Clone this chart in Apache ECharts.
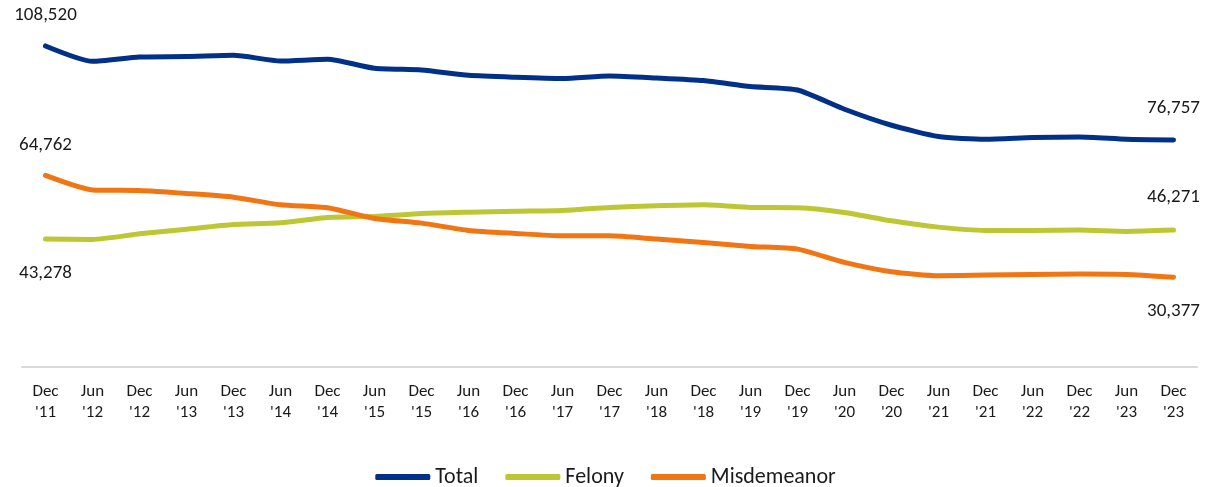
<!DOCTYPE html>
<html>
<head>
<meta charset="utf-8">
<script src="https://cdn.jsdelivr.net/npm/echarts@6/dist/echarts.min.js"></script>
<style>
  html, body { margin: 0; padding: 0; background: #fff; }
  #chart { width: 1211px; height: 487px; }
</style>
</head>
<body>
<div id="chart"></div>
<script>
const categories = [
  "Dec\n'11", "Jun\n'12", "Dec\n'12", "Jun\n'13", "Dec\n'13", "Jun\n'14", "Dec\n'14",
  "Jun\n'15", "Dec\n'15", "Jun\n'16", "Dec\n'16", "Jun\n'17", "Dec\n'17", "Jun\n'18",
  "Dec\n'18", "Jun\n'19", "Dec\n'19", "Jun\n'20", "Dec\n'20", "Jun\n'21", "Dec\n'21",
  "Jun\n'22", "Dec\n'22", "Jun\n'23", "Dec\n'23"
]

const total = [
  108520, 103340, 104790, 104920, 105360, 103440, 104010, 100970, 100400, 98610,
  97930, 97490, 98370, 97700, 96820, 94790, 93640, 87130, 81720, 77910,
  77000, 77570, 77770, 77000, 76757
]
const felony = [
  43278, 43120, 45020, 46600, 48190, 48730, 50550, 50890, 51900, 52340,
  52680, 52920, 53930, 54470, 54810, 53930, 53800, 52240, 49410, 47280,
  46160, 46160, 46270, 45830, 46271
]
const misdemeanor = [
  64762, 59870, 59670, 58660, 57410, 54810, 53800, 50220, 48630, 46160,
  45150, 44340, 44340, 43230, 42110, 40760, 39850, 35360, 32180, 30830,
  31070, 31300, 31410, 31300, 30377
]

const fontFamily = 'Calibri, Carlito, Lato, sans-serif'
const fmt = v => v.toLocaleString('en-US')

// only the first and last point carry a value label
function withEnds(values, firstPos, firstDist, lastPos, lastDist) {
  return values.map((v, i) => {
    if (i === 0 || i === values.length - 1) {
      const first = i === 0
      return {
        value: v,
        label: {
          show: true,
          position: first ? firstPos : lastPos,
          distance: first ? firstDist : lastDist,
          formatter: p => fmt(p.value),
          fontSize: 19,
          fontFamily: fontFamily,
          color: '#1a1a1a'
        }
      }
    }
    return v
  })
}

function lineSeries(name, color, data) {
  return {
    name: name,
    type: 'line',
    data: data,
    symbol: 'circle',
    symbolSize: 0,
    showAllSymbol: true,
    smooth: 0.2,
    lineStyle: { width: 5, color: color, cap: 'round', join: 'round' },
    itemStyle: { color: color },
    animation: false
  }
}

const chart = echarts.init(document.getElementById('chart'))
chart.setOption({
  backgroundColor: '#fff',
  grid: { left: 22, right: 14, top: 12, bottom: 120 },
  legend: {
    top: 461,
    left: 'center',
    icon: 'roundRect',
    itemWidth: 55,
    itemHeight: 6,
    itemGap: 27,
    textStyle: { fontSize: 22, fontFamily: fontFamily, color: '#1a1a1a' },
    data: ['Total', 'Felony', 'Misdemeanor']
  },
  xAxis: {
    type: 'category',
    data: categories,
    boundaryGap: true,
    axisLine: { lineStyle: { color: '#d9d9d9', width: 2 } },
    axisTick: { show: false },
    axisLabel: {
      interval: 0,
      margin: 14,
      fontSize: 17,
      lineHeight: 21,
      fontFamily: fontFamily,
      color: '#1a1a1a'
    }
  },
  yAxis: {
    type: 'value',
    min: 0,
    max: 120000,
    show: false,
    splitLine: { show: false }
  },
  series: [
    lineSeries('Total', '#003087', withEnds(total, 'top', 21, 'top', 22)),
    lineSeries('Felony', '#bdc733', withEnds(felony, 'bottom', 25, 'top', 23)),
    lineSeries('Misdemeanor', '#f27513', withEnds(misdemeanor, 'top', 21, 'bottom', 25))
  ]
})
</script>
</body>
</html>
